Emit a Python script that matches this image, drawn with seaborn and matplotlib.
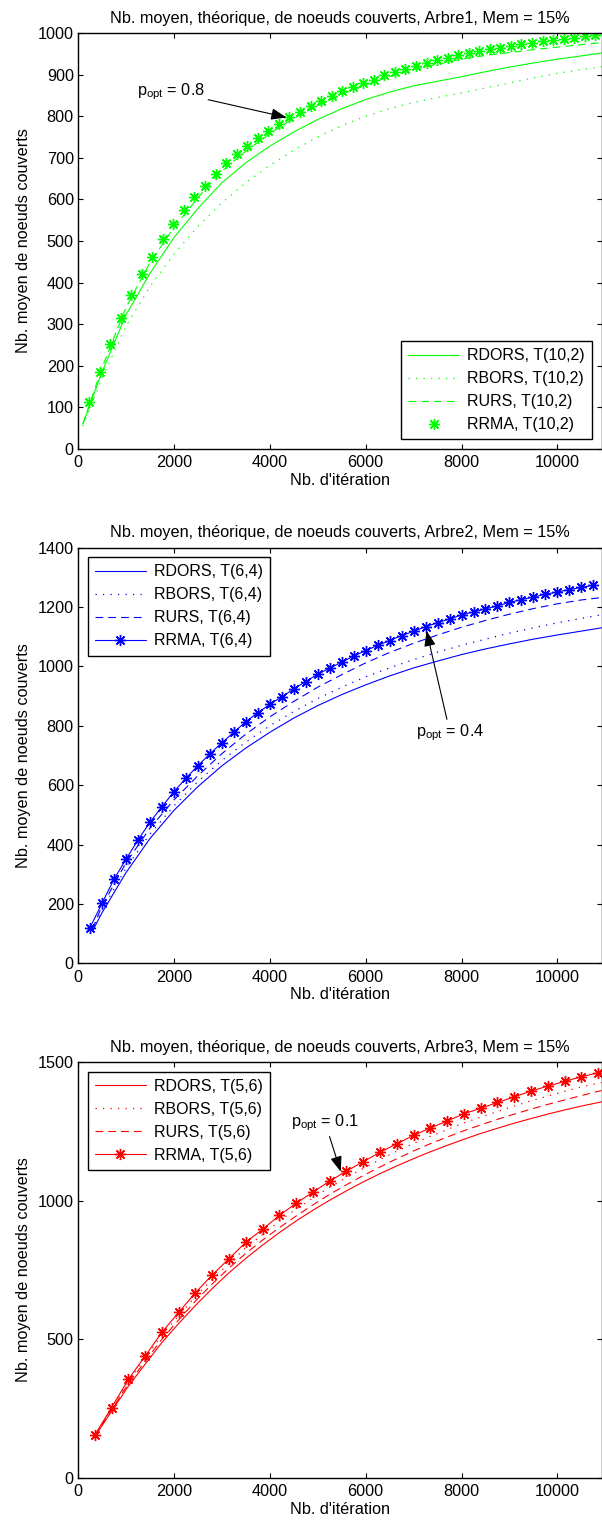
import numpy as np
import pandas as pd
import matplotlib
matplotlib.use("Agg")
import matplotlib.pyplot as plt
import seaborn as sns

# ---------------- data ----------------
# Arbre1 (green)
x1_lines = [100, 500, 1000, 1500, 2000, 2500, 3000, 3500, 4000, 4500, 5000, 5500,
            6000, 6500, 7000, 7500, 8000, 8500, 9000, 9500, 10000, 10500, 10920]
rdors1 = [60, 185, 322, 422, 508, 578, 640, 688, 728, 762, 792, 818,
          840, 858, 873, 884, 895, 907, 918, 928, 937, 945, 952]
rbors1 = [55, 170, 295, 390, 468, 535, 592, 640, 682, 718, 750, 777,
          800, 818, 833, 845, 856, 868, 880, 892, 903, 912, 919]
rurs1 = [60, 195, 340, 448, 532, 604, 668, 716, 758, 795, 825, 852,
         875, 895, 912, 925, 937, 946, 953, 960, 966, 972, 977]
x1_rrma = [230, 450, 670, 890, 1110, 1330, 1550, 1770, 1990, 2210, 2430, 2650, 2870,
           3090, 3310, 3530, 3750, 3970, 4190, 4410, 4630, 4850, 5070, 5290, 5510,
           5730, 5950, 6170, 6390, 6610, 6830, 7050, 7270, 7490, 7710, 7930, 8150,
           8370, 8590, 8810, 9030, 9250, 9470, 9690, 9910, 10130, 10350, 10570, 10790]
rrma1 = [112, 186, 252, 316, 370, 420, 462, 504, 540, 574, 605, 633, 661,
         687, 708, 729, 748, 765, 781, 797, 811, 824, 837, 849, 861,
         871, 880, 888, 898, 906, 913, 921, 929, 934, 940, 947, 952,
         957, 961, 965, 969, 973, 976, 980, 982, 986, 988, 992, 994]

# Arbre2 (blue)
x2_lines = [300, 500, 1000, 1500, 2000, 2500, 3000, 3500, 4000, 4500, 5000, 5500,
            6000, 6500, 7000, 7500, 8000, 8500, 9000, 9500, 10000, 10500, 10920]
rdors2 = [108, 170, 305, 420, 515, 595, 665, 725, 778, 826, 868, 905,
          938, 968, 995, 1018, 1040, 1059, 1076, 1092, 1106, 1119, 1130]
rbors2 = [112, 180, 320, 435, 530, 612, 683, 745, 800, 848, 892, 930,
          965, 995, 1023, 1048, 1071, 1092, 1112, 1130, 1147, 1162, 1174]
rurs2 = [115, 193, 338, 455, 550, 632, 706, 772, 830, 882, 930, 972,
         1012, 1047, 1078, 1106, 1132, 1155, 1176, 1195, 1211, 1224, 1232]
x2_rrma = [250, 500, 750, 1000, 1250, 1500, 1750, 2000, 2250, 2500, 2750, 3000,
           3250, 3500, 3750, 4000, 4250, 4500, 4750, 5000, 5250, 5500, 5750, 6000,
           6250, 6500, 6750, 7000, 7250, 7500, 7750, 8000, 8250, 8500, 8750, 9000,
           9250, 9500, 9750, 10000, 10250, 10500, 10750]
rrma2 = [120, 202, 283, 350, 415, 475, 527, 578, 623, 666, 705, 743,
         778, 814, 844, 872, 898, 924, 949, 974, 994, 1014, 1035, 1053,
         1071, 1087, 1104, 1118, 1134, 1147, 1160, 1173, 1184, 1194, 1204, 1216,
         1225, 1234, 1243, 1251, 1259, 1266, 1274]

# Arbre3 (red)
x3_lines = [350, 700, 1050, 1400, 1750, 2100, 2450, 2800, 3150, 3500, 3850, 4200,
            4550, 4900, 5250, 5600, 5950, 6300, 6650, 7000, 7350, 7700, 8050, 8400,
            8750, 9100, 9450, 9800, 10150, 10500, 10920]
rdors3 = [148, 240, 330, 410, 488, 557, 622, 683, 740, 792, 840, 885,
          927, 966, 1002, 1036, 1068, 1098, 1126, 1152, 1177, 1200, 1222, 1243,
          1262, 1280, 1297, 1313, 1328, 1342, 1357]
rbors3 = [152, 250, 348, 432, 515, 585, 654, 716, 774, 830, 878, 926,
          970, 1010, 1049, 1084, 1117, 1149, 1179, 1207, 1233, 1257, 1281, 1302,
          1322, 1342, 1361, 1378, 1395, 1411, 1427]
rurs3 = [150, 245, 340, 420, 500, 570, 638, 700, 757, 810, 858, 903,
         945, 985, 1023, 1058, 1091, 1122, 1152, 1180, 1206, 1230, 1253, 1274,
         1294, 1313, 1331, 1348, 1364, 1380, 1398]
x3_rrma = [350, 700, 1050, 1400, 1750, 2100, 2450, 2800, 3150, 3500, 3850, 4200,
           4550, 4900, 5250, 5600, 5950, 6300, 6650, 7000, 7350, 7700, 8050, 8400,
           8750, 9100, 9450, 9800, 10150, 10500, 10850]
rrma3 = [154, 253, 355, 439, 525, 597, 668, 732, 791, 850, 897, 947,
         991, 1031, 1071, 1107, 1141, 1175, 1206, 1236, 1263, 1288, 1314, 1334,
         1355, 1375, 1396, 1414, 1431, 1448, 1462]

titles = ["Nb. moyen, théorique, de noeuds couverts, Arbre1, Mem = 15%",
          "Nb. moyen, théorique, de noeuds couverts, Arbre2, Mem = 15%",
          "Nb. moyen, théorique, de noeuds couverts, Arbre3, Mem = 15%"]
trees = ["T(10,2)", "T(6,4)", "T(5,6)"]
colors = ["#00ff00", "#0000ff", "#ff0000"]
ylims = [1000, 1400, 1500]
ysteps = [100, 200, 500]
popt_text = [r"p$_{\mathrm{opt}}$ = 0.8", r"p$_{\mathrm{opt}}$ = 0.4", r"p$_{\mathrm{opt}}$ = 0.1"]
# annotation: arrow head (xy), text position (xytext)
popt_xy = [(4350, 797), (7270, 1120), (5480, 1105)]
popt_xytext = [(1230, 860), (7050, 776), (4450, 1281)]

# ---------------- style ----------------
sns.set_theme(style="ticks")
plt.rcParams["font.family"] = ["Liberation Sans", "DejaVu Sans"]
plt.rcParams["mathtext.fontset"] = "custom"
plt.rcParams["mathtext.rm"] = "Liberation Sans"
plt.rcParams["mathtext.it"] = "Liberation Sans:italic"
plt.rcParams.update({
    "xtick.direction": "in", "ytick.direction": "in",
    "xtick.top": True, "ytick.right": True,
    "xtick.major.size": 3.5, "ytick.major.size": 3.5,
    "xtick.major.width": 0.8, "ytick.major.width": 0.8,
    "axes.linewidth": 1.0, "axes.edgecolor": "black",
    "xtick.color": "black", "ytick.color": "black",
    "axes.labelcolor": "black", "text.color": "black",
})

W, H = 602, 1524
fig = plt.figure(figsize=(W / 100, H / 100), dpi=100)
left = 78 / W
width = (601.5 - 78) / W
tops = [33, 547.7, 1062.3]
bots = [449, 963.3, 1477.7]

datasets = [
    (x1_lines, rdors1, rbors1, rurs1, x1_rrma, rrma1),
    (x2_lines, rdors2, rbors2, rurs2, x2_rrma, rrma2),
    (x3_lines, rdors3, rbors3, rurs3, x3_rrma, rrma3),
]
legend_locs = ["lower right", "upper left", "upper left"]
star = (8, 2, 0)
fs = 11.7
lfs = 11.5

for i in range(3):
    ax = fig.add_axes([left, 1 - bots[i] / H, width, (bots[i] - tops[i]) / H])
    xl, a, b, c, xr, r = datasets[i]
    col = colors[i]
    t = trees[i]
    sns.lineplot(x=xl, y=a, ax=ax, color=col, lw=0.8, ls="-", label=f"RDORS, {t}",
                 estimator=None, sort=False)
    sns.lineplot(x=xl, y=b, ax=ax, color=col, lw=0.9, ls=(0, (1, 5)), label=f"RBORS, {t}",
                 estimator=None, sort=False)
    sns.lineplot(x=xl, y=c, ax=ax, color=col, lw=0.8, ls=(0, (7, 4.5)), label=f"RURS, {t}",
                 estimator=None, sort=False)
    if i == 0:
        sns.lineplot(x=xr, y=r, ax=ax, color=col, lw=0, ls="none", marker=star, ms=8,
                     mew=1.0, mec=col, label=f"RRMA, {t}", estimator=None, sort=False)
    else:
        sns.lineplot(x=xr, y=r, ax=ax, color=col, lw=0.8, ls="-", marker=star, ms=8,
                     mew=1.0, mec=col, label=f"RRMA, {t}", estimator=None, sort=False)

    ax.set_xlim(0, 10920)
    ax.set_ylim(0, ylims[i])
    ax.set_xticks(np.arange(0, 10001, 2000))
    ax.set_yticks(np.arange(0, ylims[i] + 1, ysteps[i]))
    ax.tick_params(axis="x", labelsize=fs, pad=4.5)
    ax.tick_params(axis="y", labelsize=fs, pad=3)
    ax.set_title(titles[i], fontsize=fs, pad=7.5)
    ax.set_xlabel("Nb. d'itération", fontsize=fs, labelpad=2)
    ax.set_ylabel("Nb. moyen de noeuds couverts", fontsize=fs, labelpad=5)
    for s in ax.spines.values():
        s.set_visible(True)
        s.set_color("black")
        s.set_linewidth(1.0)

    leg = ax.legend(loc=legend_locs[i], fontsize=lfs, frameon=True, fancybox=False,
                    edgecolor="black", framealpha=1, handlelength=3.2, numpoints=1,
                    labelspacing=0.5, borderpad=0.45, handletextpad=0.5,
                    borderaxespad=0.6)
    leg.get_frame().set_linewidth(1.0)

    ax.annotate(popt_text[i], xy=popt_xy[i], xytext=popt_xytext[i], fontsize=fs,
                va="center", ha="left",
                arrowprops=dict(arrowstyle="-|>,head_length=0.8,head_width=0.3",
                                color="black", lw=0.8, shrinkA=0, shrinkB=0))

fig.savefig("out.png", dpi=100)
